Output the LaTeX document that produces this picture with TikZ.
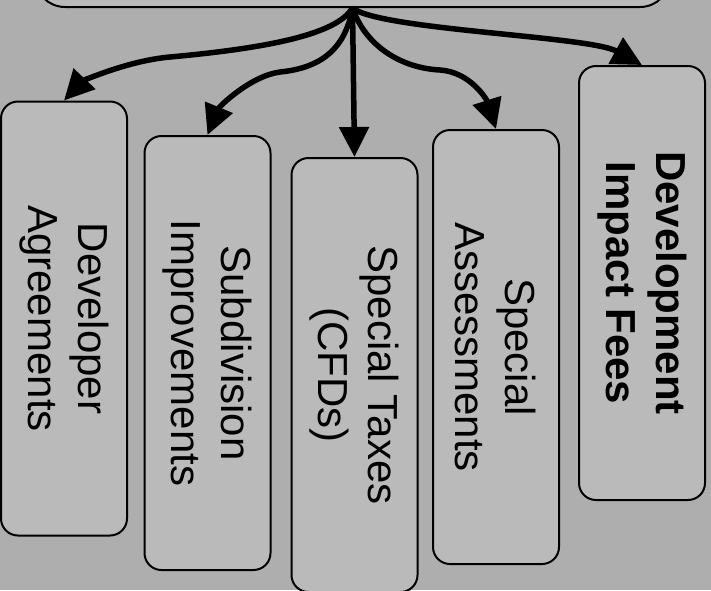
\documentclass[tikz,border=0pt]{standalone}
\usepackage{fontspec}
\setmainfont{Liberation Sans}
\usetikzlibrary{arrows.meta}
\definecolor{bg}{RGB}{174,174,174}
\definecolor{boxfill}{RGB}{186,186,186}
\begin{document}
\begin{tikzpicture}[x=1pt,y=1pt,
  box/.style={draw=black, line width=2pt, rounded corners=17pt, fill=boxfill,
    rotate=-90, minimum width=434pt, minimum height=126pt, inner sep=0pt,
    align=center, font=\fontsize{42}{50}\selectfont},
  conn/.style={line width=5.5pt, -{Triangle[length=30pt 0 0,width=29pt 0 0]}}]
\useasboundingbox (0,0) rectangle (711,-590);
\clip (0,0) rectangle (711,-590);
\fill[bg] (0,0) rectangle (711,-590);
% top box (cut off)
\node[draw=black, line width=2pt, rounded corners=30pt, fill=boxfill,
  minimum width=635pt, minimum height=120pt, anchor=south, inner sep=0pt] (top) at (352.5,-8) {};
% boxes
\node[box] (b1) at (64,-318.5) {Developer\\Agreements};
\node[box] (b2) at (207.5,-353) {Subdivision\\Improvements};
\node[box] (b3) at (354.5,-375) {Special Taxes\\(CFDs)};
\node[box] (b4) at (496,-347) {Special\\Assessments};
\node[box, font=\fontsize{42}{50}\selectfont\bfseries] (b5) at (642,-283) {Development\\Impact Fees};
% connectors
\draw[conn] (top.south) .. controls (338,-32) and (280,-47) .. (170,-57)
  .. controls (125,-61) and (81,-82.5) .. (b1.west);
\draw[conn] (top.south) .. controls (345,-50) and (320,-68) .. (280,-72)
  .. controls (250,-76) and (219,-107) .. (b2.west);
\draw[conn] (top.south) -- (b3.west);
\draw[conn] (top.south) .. controls (365,-45) and (400,-68) .. (440,-70)
  .. controls (470,-72) and (486.5,-99) .. (b4.west);
\draw[conn] (top.south) .. controls (380,-30) and (589,-36) .. (b5.west);
\end{tikzpicture}
\end{document}
